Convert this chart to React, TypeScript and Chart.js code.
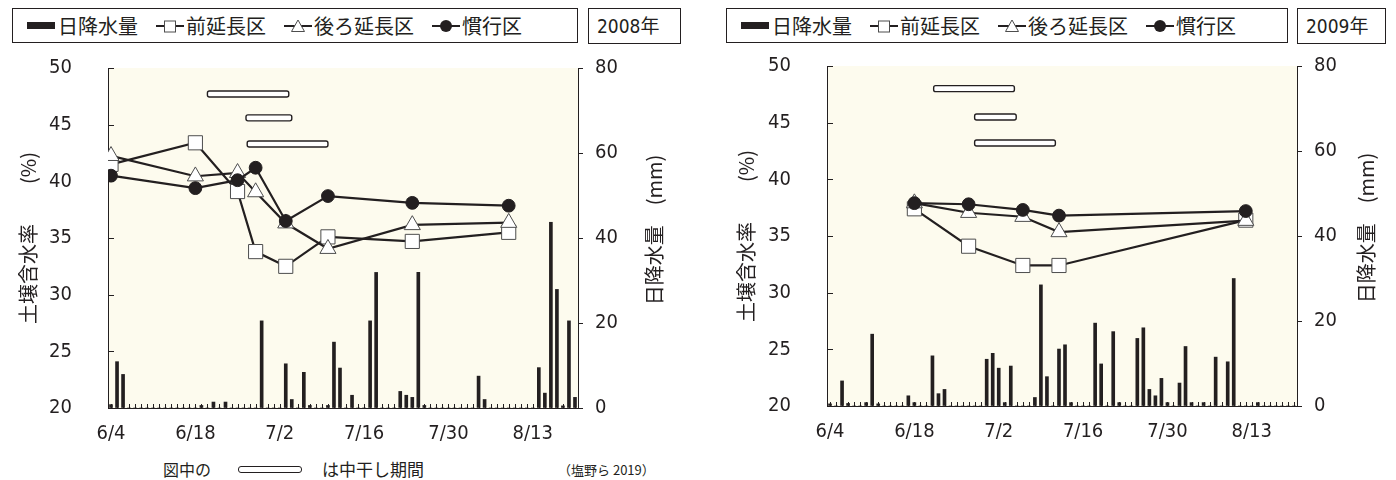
import React, { useEffect, useRef } from "react";
import { Chart, registerables } from "chart.js";

Chart.register(...registerables);

// ---------- data ----------
const seriesNames = ["日降水量", "前延長区", "後ろ延長区", "慣行区"];
const yTitle = "土壌含水率　　(%)";
const y2Title = "日降水量　(mm)";
const footNote = "図中の";
const footNote2 = "は中干し期間";
const sourceNote = "（塩野ら 2019）";

// x axis: day index from 6/4 (0) to 8/20 (77)
const dayCount = 78;
const xTickDays = [0, 14, 28, 42, 56, 70];
const xTickLabels = ["6/4", "6/18", "7/2", "7/16", "7/30", "8/13"];

// 2008 daily rainfall (mm), 6/4 .. 8/20
const rain2008 = [
  0.8, 10.9, 7.9, 0, 0, 0, 0, 0, 0, 0,
  0, 0, 0, 0, 0, 0.6, 0, 1.4, 0, 1.4,
  0, 0, 0, 0, 0, 20.5, 0, 0, 0, 10.4,
  2.0, 0, 8.4, 0.6, 0, 0, 0.6, 15.5, 9.4, 0,
  3.0, 0, 0, 20.5, 31.9, 0, 0, 0, 3.9, 3.0,
  2.5, 31.9, 0.6, 0, 0, 0, 0, 0, 0, 0,
  0, 7.5, 2.0, 0, 0, 0, 0, 0, 0, 0,
  0, 9.5, 3.5, 43.7, 27.9, 0.5, 20.5, 2.5,
];
// 2009 daily rainfall (mm), 6/4 .. 8/20
const rain2009 = [
  0.5, 0, 5.9, 0.6, 0, 0, 0.8, 16.9, 0.5, 0,
  0, 0, 0, 2.4, 0.8, 0, 0, 11.8, 2.9, 3.9,
  0, 0, 0, 0, 0, 0, 11.0, 12.4, 8.9, 0.8,
  9.4, 0, 0, 0, 2.0, 28.5, 6.9, 0, 13.4, 14.4,
  0.8, 0, 0, 0, 19.5, 9.9, 0, 17.5, 0.8, 0,
  0, 15.9, 18.4, 3.9, 2.4, 6.5, 0.8, 0, 5.4, 14.0,
  0.8, 0, 0.8, 0, 11.5, 0, 10.4, 30.0, 0, 0,
  0, 0.8, 0, 0, 0, 0, 0, 0,
];

// soil moisture (%) 2008
const days2008 = [0, 14, 21, 24, 29, 36, 50, 66];
const front2008 = [41.5, 43.4, 39.1, 33.8, 32.5, 35.1, 34.7, 35.5];
const back2008 = [42.25, 40.45, 40.75, 39.05, 36.3, 34.05, 36.15, 36.35];
const conv2008 = [40.5, 39.4, 40.1, 41.2, 36.5, 38.7, 38.1, 37.85];

// soil moisture (%) 2009
const days2009 = [14, 23, 32, 38, 69];
const front2009 = [37.4, 34.1, 32.4, 32.4, 36.4];
const back2009 = [37.9, 37.05, 36.7, 35.35, 36.35];
const conv2009 = [37.9, 37.8, 37.3, 36.8, 37.2];

// mid-season drainage periods (day index start/end, drawn at soil-moisture level)
const drainStart2008 = [16.0, 22.4, 22.6];
const drainEnd2008 = [29.5, 30.0, 36.0];
const drainLevel2008 = [47.7, 45.6, 43.3];
const drainStart2009 = [17.2, 24.0, 24.0];
const drainEnd2009 = [30.6, 30.9, 37.4];
const drainLevel2009 = [48.0, 45.5, 43.2];

// ---------- style ----------
const INK = "#231f20";
const MARK_EDGE = "#4d4d4d";
const PLOT_BG = "#fdfbee";
const NUM_FONT = '"DejaVu Sans Condensed", "Liberation Sans Narrow", "Arial Narrow", sans-serif';
const JP_FONT = '"Noto Sans CJK JP", "Noto Sans", sans-serif';

type PanelProps = {
  year: string;
  rain: number[];
  days: number[];
  front: number[];
  back: number[];
  conv: number[];
  drainStart: number[];
  drainEnd: number[];
  drainLevel: number[];
  x: number;
  y: number;
  w: number;
  leftW: number;
  rightW: number;
  leftTitleOff: number;
  rightTitleOff: number;
};

const CANVAS_H = 400;
const PAD_TOP = 18;
const X_AXIS_H = 42;

function makeChart(canvas: HTMLCanvasElement, p: PanelProps) {
  const pts = (days: number[], vals: number[]) => days.map((d, i) => ({ x: d, y: vals[i] }));

  const decor = {
    id: "panelDecor",
    beforeDraw(chart: any) {
      const { ctx, chartArea } = chart;
      ctx.save();
      ctx.fillStyle = PLOT_BG;
      ctx.fillRect(chartArea.left, chartArea.top, chartArea.right - chartArea.left, chartArea.bottom - chartArea.top);
      ctx.restore();
    },
    beforeDatasetsDraw(chart: any) {
      const { ctx, chartArea, scales } = chart;
      const xs = scales.x;
      const ys = scales.y;
      ctx.save();
      ctx.strokeStyle = INK;
      ctx.lineWidth = 1;
      ctx.beginPath();
      // minor day ticks (inside)
      for (let d = 0; d < dayCount; d++) {
        const px = Math.round(xs.getPixelForValue(d)) + 0.5;
        ctx.moveTo(px, chartArea.bottom);
        ctx.lineTo(px, chartArea.bottom - 4);
      }
      // left axis ticks (inside)
      ys.ticks.forEach((t: any) => {
        const py = Math.round(ys.getPixelForValue(t.value)) + 0.5;
        ctx.moveTo(chartArea.left, py);
        ctx.lineTo(chartArea.left + 6, py);
      });
      ctx.stroke();
      ctx.restore();
    },
    afterDatasetsDraw(chart: any) {
      const { ctx, scales } = chart;
      const xs = scales.x;
      const ys = scales.y;
      ctx.save();
      ctx.fillStyle = "#ffffff";
      ctx.strokeStyle = INK;
      ctx.lineWidth = 1.4;
      p.drainStart.forEach((s, i) => {
        const x1 = xs.getPixelForValue(s);
        const x2 = xs.getPixelForValue(p.drainEnd[i]);
        const yc = ys.getPixelForValue(p.drainLevel[i]);
        ctx.beginPath();
        if ((ctx as any).roundRect) (ctx as any).roundRect(x1, yc - 3, x2 - x1, 6, 2);
        else ctx.rect(x1, yc - 3, x2 - x1, 6);
        ctx.fill();
        ctx.stroke();
      });
      ctx.restore();
    },
    afterDraw(chart: any) {
      const { ctx, chartArea } = chart;
      const cy = (chartArea.top + chartArea.bottom) / 2;
      ctx.save();
      ctx.fillStyle = INK;
      ctx.font = `20px ${JP_FONT}`;
      ctx.textAlign = "center";
      ctx.textBaseline = "middle";
      ctx.translate(chartArea.left - p.leftTitleOff, cy);
      ctx.rotate(-Math.PI / 2);
      ctx.fillText(yTitle, 0, 0);
      ctx.restore();
      ctx.save();
      ctx.fillStyle = INK;
      ctx.font = `20px ${JP_FONT}`;
      ctx.textAlign = "center";
      ctx.textBaseline = "middle";
      ctx.translate(chartArea.right + p.rightTitleOff, cy - 8);
      ctx.rotate(-Math.PI / 2);
      ctx.fillText(y2Title, 0, 0);
      ctx.restore();
    },
  };

  const fixVertical = (w: number) => (s: any) => {
    s.width = w;
    s.paddingTop = 10;
    s.paddingBottom = 10;
  };

  return new Chart(canvas, {
    type: "bar",
    data: {
      datasets: [
        {
          type: "line",
          label: seriesNames[3],
          data: pts(p.days, p.conv),
          yAxisID: "y",
          borderColor: INK,
          borderWidth: 2.2,
          pointStyle: "circle",
          pointRadius: 6.4,
          pointBackgroundColor: INK,
          pointBorderColor: INK,
          pointBorderWidth: 1,
          order: 1,
        },
        {
          type: "line",
          label: seriesNames[2],
          data: pts(p.days, p.back),
          yAxisID: "y",
          borderColor: INK,
          borderWidth: 2.2,
          pointStyle: "triangle",
          pointRadius: 9.3,
          pointBackgroundColor: "#ffffff",
          pointBorderColor: MARK_EDGE,
          pointBorderWidth: 1,
          order: 2,
        },
        {
          type: "line",
          label: seriesNames[1],
          data: pts(p.days, p.front),
          yAxisID: "y",
          borderColor: INK,
          borderWidth: 2.2,
          pointStyle: "rect",
          pointRadius: 10,
          pointBackgroundColor: "#ffffff",
          pointBorderColor: MARK_EDGE,
          pointBorderWidth: 1,
          order: 3,
        },
        {
          type: "bar",
          label: seriesNames[0],
          data: p.rain.map((v, i) => ({ x: i, y: v })),
          yAxisID: "y2",
          backgroundColor: INK,
          barThickness: 3,
          order: 4,
        },
      ] as any,
    },
    options: {
      animation: false,
      responsive: false,
      maintainAspectRatio: false,
      events: [],
      layout: { padding: { top: PAD_TOP, left: 0, right: 0, bottom: 0 } },
      plugins: { legend: { display: false }, tooltip: { enabled: false }, title: { display: false } },
      scales: {
        x: {
          type: "linear",
          min: -0.5,
          max: dayCount - 0.5,
          offset: false,
          grid: { display: false },
          border: { display: true, color: INK, width: 1 },
          afterBuildTicks: (s: any) => {
            s.ticks = xTickDays.map((v) => ({ value: v }));
          },
          afterFit: (s: any) => {
            s.height = X_AXIS_H;
            s.paddingLeft = 0;
            s.paddingRight = 0;
          },
          ticks: {
            autoSkip: false,
            maxRotation: 0,
            minRotation: 0,
            padding: 6,
            color: INK,
            font: { family: NUM_FONT, size: 20 },
            callback: (v: any) => {
              const i = xTickDays.indexOf(Number(v));
              return i >= 0 ? xTickLabels[i] : "";
            },
          },
        },
        y: {
          type: "linear",
          position: "left",
          min: 20,
          max: 50,
          grid: { display: false },
          border: { display: true, color: INK, width: 1 },
          afterFit: fixVertical(p.leftW),
          ticks: {
            stepSize: 5,
            padding: 28,
            color: INK,
            font: { family: NUM_FONT, size: 20 },
          },
        },
        y2: {
          type: "linear",
          position: "right",
          min: 0,
          max: 80,
          grid: { display: true, drawOnChartArea: false, drawTicks: true, tickLength: 5, color: INK },
          border: { display: true, color: INK, width: 1 },
          afterFit: fixVertical(p.rightW),
          ticks: {
            stepSize: 20,
            padding: 12,
            color: INK,
            font: { family: NUM_FONT, size: 20 },
          },
        },
      },
    } as any,
    plugins: [decor],
  });
}

function Panel(props: PanelProps) {
  const ref = useRef<HTMLCanvasElement>(null);
  useEffect(() => {
    const chart = makeChart(ref.current as HTMLCanvasElement, props);
    return () => chart.destroy();
  }, []);
  return (
    <canvas
      ref={ref}
      width={props.w}
      height={CANVAS_H}
      style={{ position: "absolute", left: props.x, top: props.y, width: props.w, height: CANVAS_H }}
    />
  );
}

function Symbol({ kind }: { kind: string }) {
  if (kind === "bar") {
    return <span style={{ display: "inline-block", width: 28, height: 7, background: INK }} />;
  }
  return (
    <svg width={28} height={16} style={{ display: "block" }}>
      <line x1={0} y1={8} x2={28} y2={8} stroke={INK} strokeWidth={2} />
      {kind === "rect" && <rect x={8.5} y={3} width={11} height={11} fill="#fff" stroke={MARK_EDGE} strokeWidth={1} />}
      {kind === "tri" && <polygon points="14,2 20.5,13.5 7.5,13.5" fill="#fff" stroke={MARK_EDGE} strokeWidth={1} />}
      {kind === "circle" && <circle cx={14} cy={8} r={6} fill={INK} />}
    </svg>
  );
}

const legendKinds = ["bar", "rect", "tri", "circle"];

function Legend({ left, width, year, yearLeft, yearWidth }: { left: number; width: number; year: string; yearLeft: number; yearWidth: number }) {
  return (
    <>
      <div
        style={{
          position: "absolute",
          left,
          top: 8,
          width,
          height: 35,
          boxSizing: "border-box",
          border: `1.5px solid ${INK}`,
          background: "#fff",
          display: "flex",
          alignItems: "center",
          paddingLeft: 14,
          fontFamily: JP_FONT,
          fontSize: 20,
          lineHeight: 1,
          color: INK,
          whiteSpace: "nowrap",
        }}
      >
        {seriesNames.map((n, i) => (
          <div key={n} style={{ display: "flex", alignItems: "center", marginLeft: i === 0 ? 0 : 18 }}>
            <Symbol kind={legendKinds[i]} />
            <span style={{ marginLeft: i === 0 ? 3 : 2 }}>{n}</span>
          </div>
        ))}
      </div>
      <div
        style={{
          position: "absolute",
          left: yearLeft,
          top: 8,
          width: yearWidth,
          height: 36,
          boxSizing: "border-box",
          border: `1.5px solid ${INK}`,
          background: "#fff",
          display: "flex",
          alignItems: "center",
          paddingLeft: 8,
          fontFamily: `"DejaVu Sans Condensed", ${JP_FONT}`,
          fontSize: 19,
          lineHeight: 1,
          color: INK,
        }}
      >
        {year}
      </div>
    </>
  );
}

export default function App() {
  return (
    <div style={{ position: "absolute", left: 0, top: 0, width: 1396, height: 480, background: "#fff" }}>
      <Panel
        year="2008年"
        rain={rain2008}
        days={days2008}
        front={front2008}
        back={back2008}
        conv={conv2008}
        drainStart={drainStart2008}
        drainEnd={drainEnd2008}
        drainLevel={drainLevel2008}
        x={0}
        y={50}
        w={700}
        leftW={108}
        rightW={122}
        leftTitleOff={80}
        rightTitleOff={76}
      />
      <Panel
        year="2009年"
        rain={rain2009}
        days={days2009}
        front={front2009}
        back={back2009}
        conv={conv2009}
        drainStart={drainStart2009}
        drainEnd={drainEnd2009}
        drainLevel={drainLevel2009}
        x={700}
        y={48}
        w={696}
        leftW={127}
        rightW={99}
        leftTitleOff={81}
        rightTitleOff={69}
      />
      <Legend left={12} width={566} year="2008年" yearLeft={588} yearWidth={93} />
      <Legend left={726} width={562} year="2009年" yearLeft={1297} yearWidth={89} />
      <div style={{ position: "absolute", left: 163, top: 460, fontFamily: JP_FONT, fontSize: 16, lineHeight: "18px", color: INK }}>
        {footNote}
      </div>
      <div
        style={{
          position: "absolute",
          left: 238,
          top: 466,
          width: 64,
          height: 7,
          boxSizing: "border-box",
          border: `1.4px solid ${INK}`,
          borderRadius: 3,
          background: "#fff",
        }}
      />
      <div style={{ position: "absolute", left: 322, top: 460, fontFamily: JP_FONT, fontSize: 17, lineHeight: "18px", color: INK }}>
        {footNote2}
      </div>
      <div style={{ position: "absolute", left: 558, top: 462, fontFamily: JP_FONT, fontSize: 13, lineHeight: "16px", color: INK }}>
        {sourceNote}
      </div>
    </div>
  );
}
